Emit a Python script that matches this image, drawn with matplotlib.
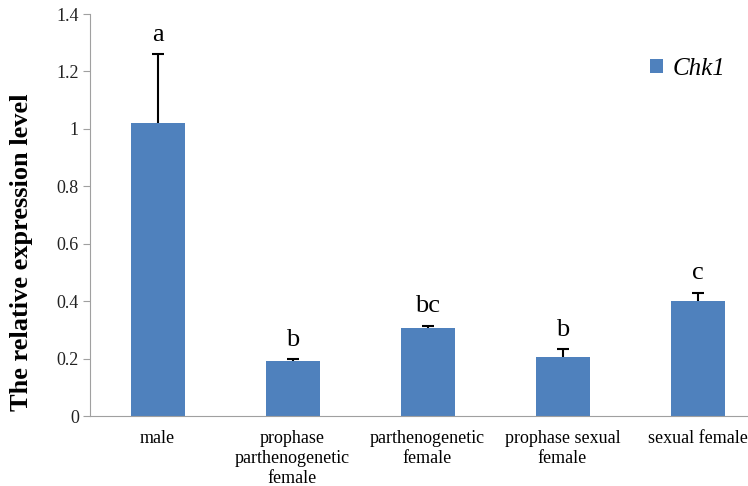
import matplotlib
matplotlib.use("Agg")
import matplotlib.pyplot as plt

categories = ["male", "prophase\nparthenogenetic\nfemale", "parthenogenetic\nfemale",
              "prophase sexual\nfemale", "sexual female"]
values = [1.02, 0.19, 0.305, 0.205, 0.40]
errors = [0.24, 0.008, 0.01, 0.027, 0.03]
letters = ["a", "b", "bc", "b", "c"]
yticks = [0, 0.2, 0.4, 0.6, 0.8, 1, 1.2, 1.4]
ytick_labels = ["0", "0.2", "0.4", "0.6", "0.8", "1", "1.2", "1.4"]

plt.rcParams['font.family'] = ['Liberation Serif', 'DejaVu Serif']

fig = plt.figure(figsize=(7.48, 4.86), dpi=100)
ax = fig.add_axes([90/748, 70/486, 1 - 90/748, (416-14)/486])

x = list(range(len(categories)))
bars = ax.bar(x, values, width=0.4, color="#4F81BD", label="Chk1", zorder=2)
eb = ax.errorbar(x, values, yerr=[[0]*len(values), errors], fmt="none", ecolor="black",
                 elinewidth=1.5, capsize=4, capthick=1.5, zorder=3)
caplines = eb[1]
if len(caplines) == 2:
    caplines[0].set_visible(False)
for xi, v, e, l in zip(x, values, errors, letters):
    ax.text(xi, v + e + 0.03, l, ha="center", va="bottom", fontsize=19)

ax.set_ylim(0, 1.4)
ax.set_xlim(-0.5, 4.5 - 17/135)
ax.set_yticks(yticks)
ax.set_yticklabels(ytick_labels, fontsize=13, color="#222222")
ax.set_xticks(x)
ax.set_xticklabels(categories, fontsize=13, linespacing=1.25)
ax.tick_params(axis="x", length=0, pad=10)
ax.tick_params(axis="y", length=5, color="#A0A0A0", pad=3)
for s in ["top", "right"]:
    ax.spines[s].set_visible(False)
for s in ["left", "bottom"]:
    ax.spines[s].set_color("#A0A0A0")
ax.set_ylabel("The relative expression level", fontsize=19, fontweight="bold")
ax.yaxis.set_label_coords(-0.087, 0.408)

leg = ax.legend(loc="upper right", bbox_to_anchor=(1.0, 0.947), frameon=False,
                prop={"style": "italic", "size": 18}, handlelength=0.5, handleheight=0.5,
                handletextpad=0.4)

fig.savefig("out.png", dpi=100)
